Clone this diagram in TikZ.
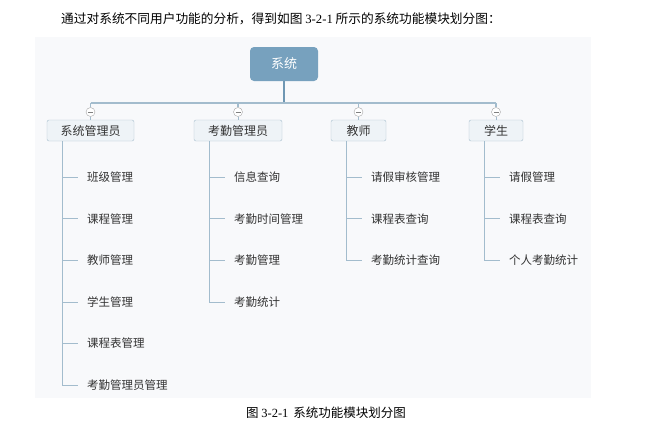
\documentclass[tikz,border=0pt]{standalone}
\usepackage{fontspec}
\setmainfont{Noto Sans CJK SC}
\newfontfamily\numfont{Liberation Serif}
\usetikzlibrary{positioning,calc}
\definecolor{cRoot}{HTML}{77A1BE}
\definecolor{cTrunk}{HTML}{6F97B3}
\definecolor{cLine}{HTML}{A3BCCD}
\definecolor{cBox}{HTML}{EEF3F7}
\definecolor{cBoxLine}{HTML}{A9BFCE}
\definecolor{cPanel}{HTML}{F8F9FB}
\definecolor{cText}{HTML}{333333}
\tikzset{
  rootb/.style={rounded corners=4pt, fill=cRoot, text=white, minimum width=68pt,
                minimum height=34pt, font=\fontsize{13}{15}\selectfont},
  grp/.style={rounded corners=2pt, draw=cBoxLine, fill=cBox, text=cText,
              minimum height=21pt, font=\fontsize{12}{14}\selectfont},
  leaf/.style={anchor=west, inner xsep=9pt, inner ysep=2pt, text=cText,
               font=\fontsize{11.5}{13}\selectfont},
  knob/.style={circle, draw=gray!70, fill=white, minimum size=9pt, inner sep=0pt,
               path picture={\draw[gray] ([xshift=2pt]path picture bounding box.west)
                 -- ([xshift=-2pt]path picture bounding box.east);}},
  trunk/.style={cTrunk, line width=2pt},
  branch/.style={cLine, line width=1.5pt},
  twig/.style={cLine, line width=1pt},
  txt/.style={text=black, inner sep=0pt},
}

\begin{document}
\begin{tikzpicture}[x=1pt,y=-1pt]
  \useasboundingbox (0,0) rectangle (662,429);
  \fill[cPanel] (35,37) rectangle (591,398);
  % heading and caption
  \node[txt, font=\fontsize{12.7}{15}\selectfont] (head) at (281,19)
    {通过对系统不同用户功能的分析，得到如图 {\numfont 3-2-1} 所示的系统功能模块划分图：};
  \node[txt, font=\fontsize{12.5}{14}\selectfont] (cap) at (326,413)
    {图 {\numfont 3-2-1}\, 系统功能模块划分图};
  % root and groups
  \node[rootb] (root) at (284,64) {系统};
  \node[grp, minimum width=87pt] (g1) at (90.5,130.5) {系统管理员};
  \node[grp, minimum width=88pt] (g2) at (238,130.5) {考勤管理员};
  \node[grp, minimum width=55pt] (g3) at (358.5,130.5) {教师};
  \node[grp, minimum width=54pt] (g4) at (496,130.5) {学生};
  \coordinate (j) at (284,103);
  \foreach \i in {1,...,4}
    \node[knob] (m\i) at (g\i.north |- 0,112) {};
  \draw[trunk] (root.south) -- (j);
  \draw[branch] (m1.north |- j) -- (m4.north |- j);
  \foreach \i in {1,...,4} {
    \draw[branch] (m\i.north |- j) -- (m\i.north);
    \draw[twig] (m\i.south) -- (g\i.north);
    \coordinate (s\i) at ($(g\i.south west)+(16,0)$);
  }
  % leaves
  \foreach \t [count=\k] in {班级管理,课程管理,教师管理,学生管理,课程表管理,考勤管理员管理} {
    \node[leaf] (a\k) at ($(s1)+(15,{36+41.6*(\k-1)})$) {\t};
    \draw[twig] (s1) |- (a\k.west);
  }
  \foreach \t [count=\k] in {信息查询,考勤时间管理,考勤管理,考勤统计} {
    \node[leaf] (b\k) at ($(s2)+(15,{36+41.6*(\k-1)})$) {\t};
    \draw[twig] (s2) |- (b\k.west);
  }
  \foreach \t [count=\k] in {请假审核管理,课程表查询,考勤统计查询} {
    \node[leaf] (c\k) at ($(s3)+(15,{36+41.6*(\k-1)})$) {\t};
    \draw[twig] (s3) |- (c\k.west);
  }
  \foreach \t [count=\k] in {请假管理,课程表查询,个人考勤统计} {
    \node[leaf] (d\k) at ($(s4)+(15,{36+41.6*(\k-1)})$) {\t};
    \draw[twig] (s4) |- (d\k.west);
  }
\end{tikzpicture}
\end{document}
